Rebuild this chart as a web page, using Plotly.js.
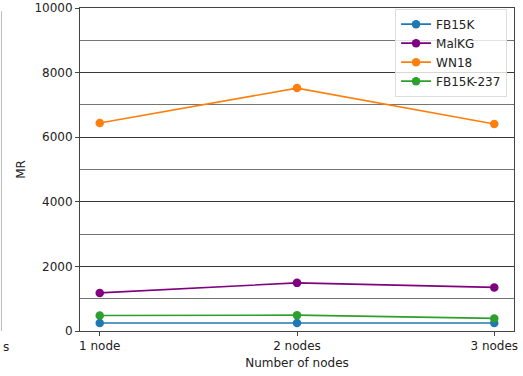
<!DOCTYPE html>
<html><head><meta charset="utf-8">
<script src="https://cdn.plot.ly/plotly-3.0.1.min.js"></script>
<style>html,body{margin:0;padding:0;background:#fff}#chart{width:523px;height:376px}</style>
</head><body><div id="chart"></div>
<script>
const categories = ["1 node", "2 nodes", "3 nodes"];
const seriesNames = ["FB15K", "MalKG", "WN18", "FB15K-237"];
const fb15k = [250, 250, 250];
const malkg = [1180, 1490, 1350];
const wn18 = [6440, 7520, 6410];
const fb15k237 = [480, 490, 390];
const colors = ["#1f77b4", "#800080", "#ff7f0e", "#2ca02c"];
const values = [fb15k, malkg, wn18, fb15k237];
const yTicks = [0, 2000, 4000, 6000, 8000, 10000];

const traces = values.map((v, i) => ({
  x: [0, 1, 2], y: v, name: seriesNames[i], type: "scatter", mode: "lines+markers",
  line: {color: colors[i], width: 1.6}, marker: {color: colors[i], size: 8.5}
}));

const layout = {
  width: 523, height: 376,
  margin: {l: 80, r: 9, t: 8, b: 45},
  paper_bgcolor: "#fff", plot_bgcolor: "#fff",
  font: {family: "DejaVu Sans", size: 12, color: "#222"},
  showlegend: true,
  legend: {x: 0.984, xanchor: "right", y: 0.998, yanchor: "top", bgcolor: "rgba(255,255,255,0.8)",
    bordercolor: "#ddd", borderwidth: 1, font: {size: 12}, tracegroupgap: 0, itemwidth: 30},
  xaxis: {
    range: [-0.1, 2.1], tickvals: [0, 1, 2], ticktext: categories,
    showgrid: false, zeroline: false, showline: true, linecolor: "#444", linewidth: 1, mirror: true,
    ticks: "outside", ticklen: 4, tickcolor: "#444",
    title: {text: "Number of nodes", font: {size: 12}, standoff: 6}
  },
  yaxis: {
    range: [0, 10000], tickvals: yTicks, ticktext: yTicks.map(String),
    showgrid: true, gridcolor: "#333", gridwidth: 0.9, zeroline: false,
    showline: true, linecolor: "#444", linewidth: 1, mirror: true,
    ticks: "outside", ticklen: 4, tickcolor: "#444",
    minor: {dtick: 1000, tick0: 0, showgrid: true, gridcolor: "#666", gridwidth: 0.9, ticks: ""},
    title: {text: "MR", font: {size: 12}, standoff: 6}
  },
  shapes: [{type: "line", xref: "paper", yref: "paper", x0: -0.181, x1: -0.181, y0: 0.0, y1: 0.99,
    line: {color: "#bbb", width: 1}}],
  annotations: [{text: "s", xref: "paper", yref: "paper", x: -0.182, y: -0.022, xanchor: "left", yanchor: "top",
    showarrow: false, font: {size: 12, color: "#222"}}]
};
Plotly.newPlot("chart", traces, layout, {displayModeBar: false, staticPlot: true});
</script></body></html>
